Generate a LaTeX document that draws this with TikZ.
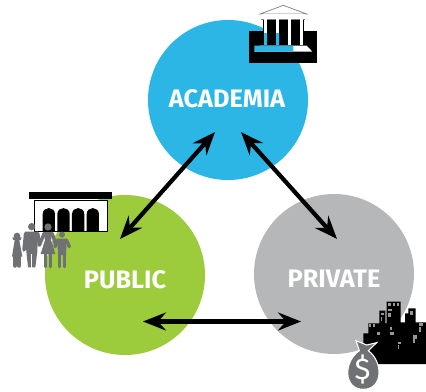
\documentclass[tikz,border=0pt]{standalone}
\usepackage{fontspec}
\setmainfont{Fira Sans}
\usepackage{xcolor}
\usetikzlibrary{positioning, arrows.meta}
\definecolor{acBlue}{RGB}{44, 182, 229}
\definecolor{pubGreen}{RGB}{156, 203, 60}
\definecolor{privGray}{RGB}{182, 183, 185}
\definecolor{figGray}{RGB}{112, 113, 117}
\definecolor{winGray}{RGB}{150, 150, 150}
\tikzset{
    hub/.style={
        circle,
        minimum size=160*0.02cm,
        inner sep=0pt
    },
    hublabel/.style={
        font=\fontsize{14.4}{15}\selectfont\bfseries,
        text=white,
        inner sep=0pt
    },
    flow/.style={
        {Stealth[length=4.6mm,width=3.6mm,inset=1.6mm]}-{Stealth[length=4.6mm,width=3.6mm,inset=1.6mm]},
        line width=2.4pt,
        color=black
    },
    limb/.style={
        line width=2pt,
        line cap=round,
        color=figGray
    }
}

\begin{document}
\begin{tikzpicture}[x=0.02cm,y=-0.02cm]
    \useasboundingbox (0,0) rectangle (426,392);

    % Circles
    \node[hub, fill=acBlue] (academia) at (228,100) {};
    \node[hub, fill=pubGreen] (public) at (125,275) {};
    \node[hub, fill=privGray] (private) at (334,274) {};

    \node[hublabel] (academiaLabel) at (227,99) {ACADEMIA};
    \node[hublabel] (publicLabel) at (125,280) {PUBLIC};
    \node[hublabel] (privateLabel) at (334,279) {PRIVATE};

    % Arrow ends
    \coordinate (acLeft) at (215,132);
    \coordinate (pubTop) at (120,239);
    \coordinate (acRight) at (241,132);
    \coordinate (privTop) at (337,239);
    \coordinate (pubRight) at (143,321.5);
    \coordinate (privLeft) at (301,321.5);

    \draw[flow] (acLeft) -- (pubTop);
    \draw[flow] (acRight) -- (privTop);
    \draw[flow] (pubRight) -- (privLeft);

    % Bank
    \begin{scope}[shift={(240,0)}, scale=1/3]
        \fill[black] (28,92) rectangle (232,188);
        \fill[black] (70,58) rectangle (192,136);
        \draw[gray, fill=white] (60,42) -- (130,16) -- (200,42) -- cycle;
        \fill[white] (66,42) rectangle (194,58);
        \draw[gray] (64,58) -- (196,58);
        \fill[white] (60,137) -- (200,137) -- (217,155) -- (43,155) -- cycle;
        \foreach \x in {72,108,144,181} {
            \fill[white] (\x,58) rectangle ++(9,77);
        }
        % blue shows through the cut outs
        \begin{scope}
            \clip (72,58) rectangle ++(9,77) (108,58) rectangle ++(9,77)
                  (43,137) rectangle (160,155);
            \fill[acBlue] (-36,100) rectangle (217,155);
        \end{scope}
    \end{scope}

    % Town hall
    \begin{scope}[shift={(0,180)}, scale=1/3]
        \fill[black] (88,35) rectangle (337,57);
        \draw[black, line width=0.8pt, fill=white] (104,61) rectangle (322,155);
        \foreach \x in {128,172,216,260} {
            \fill[black] (\x,155) -- (\x,103) .. controls (\x,78) and (\x+37,78) .. (\x+37,103) -- (\x+37,155) -- cycle;
        }
    \end{scope}

    % Family
    \begin{scope}[shift={(0,180)}, scale=1/3]
        % girl
        \fill[figGray] (51,168) circle (10);
        \fill[figGray] (37,172) -- (65,172) -- (62,180) -- (40,180) -- cycle;
        \fill[figGray] (44,180) -- (58,180) -- (67,230) -- (36,230) -- cycle;
        \draw[limb] (45,230) -- (45,258) (57,230) -- (57,258);
        % man
        \fill[figGray] (95,140) circle (11);
        \fill[figGray] (76,155) -- (114,155) -- (112,215) -- (106,262) -- (84,262) -- (79,215) -- cycle;
        \draw[limb] (77,160) -- (72,210) (113,160) -- (119,195);
        \fill[white] (94,222) rectangle (96,264);
        % woman
        \fill[figGray] (144,141) circle (11);
        \fill[figGray] (131,156) -- (157,156) -- (153,180) -- (166,222) -- (122,222) -- (135,180) -- cycle;
        \draw[limb] (133,160) -- (118,195) (156,160) -- (168,195);
        \draw[limb] (136,222) -- (136,260) (151,222) -- (151,260);
        % boy
        \fill[figGray] (186,164) circle (9);
        \fill[figGray] (172,176) -- (200,176) -- (198,225) -- (174,225) -- cycle;
        \draw[limb] (173,180) -- (165,200) (199,180) -- (208,200);
        \draw[limb] (179,225) -- (179,260) (193,225) -- (193,260);
    \end{scope}

    % City
    \begin{scope}[shift={(330,290)}, scale=1/3]
        \fill[black] (100,222) -- (100,130) -- (115,130) -- (115,100) -- (148,100)
            -- (148,62) -- (166,62) -- (166,100) -- (170,100) -- (170,35) -- (212,35) -- (212,97)
            -- (225,97) -- (225,70) -- (235,70) -- (235,55) -- (257,55) -- (257,97)
            -- (288,97) -- (288,222) -- cycle;
        \foreach \x/\y/\w/\h in {118/103/6/8, 128/103/6/8, 140/125/10/10, 152/68/10/8,
            152/82/5/12, 175/40/8/8, 188/40/8/8, 200/40/8/8, 175/56/12/8, 175/70/8/10,
            180/110/6/10, 180/126/12/8, 205/155/7/8, 203/165/5/13, 240/62/10/12,
            250/135/12/12, 250/148/5/12, 268/100/12/8, 268/112/5/13} {
            \fill[winGray] (\x,\y) rectangle ++(\w,\h);
        }
    \end{scope}

    % Money bag
    \begin{scope}[shift={(330,290)}, scale=1/3]
        \fill[figGray, draw=white, line width=0.6pt] (88,182)
            .. controls (40,215) and (40,298) .. (100,298)
            .. controls (160,298) and (160,215) .. (115,182)
            -- (140,158) -- (110,165) -- (78,152) -- cycle;
        \node[font=\fontsize{17}{17}\selectfont, text=white, inner sep=0pt] (dollar) at (98,240) {\$};
    \end{scope}
\end{tikzpicture}
\end{document}
